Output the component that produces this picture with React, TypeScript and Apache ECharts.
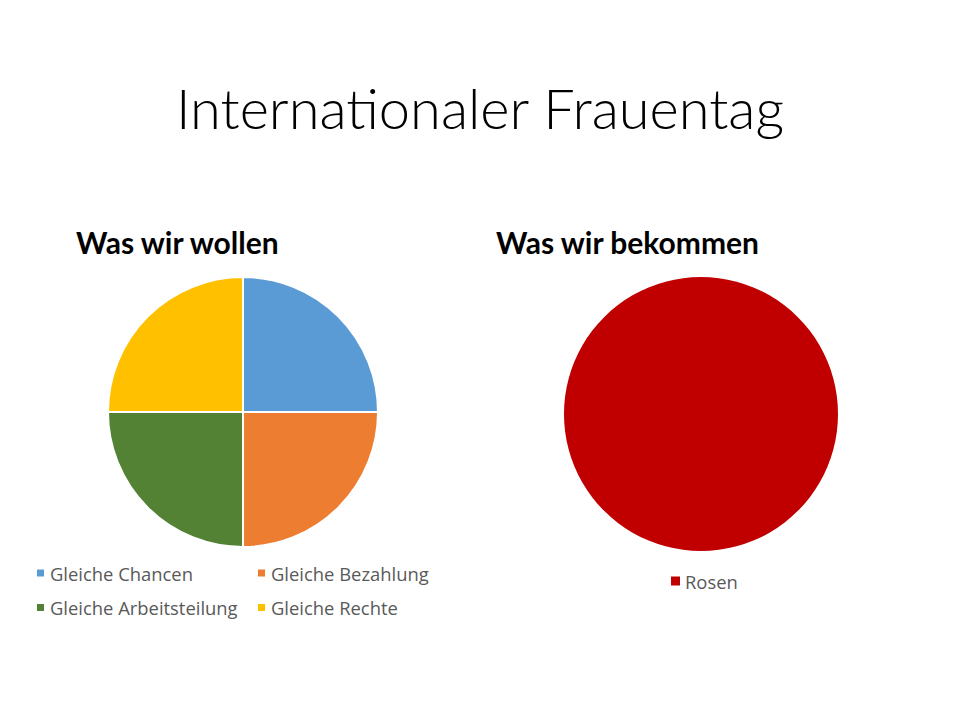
import React, { useEffect, useRef } from "react";
import * as echarts from "echarts";

const mainTitle = "Internationaler Frauentag";
const leftTitle = "Was wir wollen";
const rightTitle = "Was wir bekommen";
const wantCategories = ["Gleiche Chancen", "Gleiche Bezahlung", "Gleiche Arbeitsteilung", "Gleiche Rechte"];
const wantValues = [25, 25, 25, 25];
const wantColors = ["#5B9BD5", "#ED7D31", "#548235", "#FFC000"];
const getCategories = ["Rosen"];
const getValues = [100];
const getColors = ["#C00000"];

export default function App() {
  const ref = useRef<HTMLDivElement>(null);
  useEffect(() => {
    const chart = echarts.init(ref.current!, null, { renderer: "svg" });
    const font = "Lato, 'Open Sans', sans-serif";
    const legendText = { fontSize: 18.4, color: "#595959", fontFamily: "'Open Sans', sans-serif" };
    chart.setOption({
      animation: false,
      backgroundColor: "#ffffff",
      title: [
        {
          text: mainTitle,
          left: "center",
          top: 74,
          textStyle: { fontSize: 56, fontWeight: 300, color: "#000", fontFamily: font },
        },
        {
          text: leftTitle,
          left: 71,
          top: 222,
          textStyle: { fontSize: 30, fontWeight: "bold", color: "#000", fontFamily: font },
        },
        {
          text: rightTitle,
          left: 491,
          top: 222,
          textStyle: { fontSize: 30, fontWeight: "bold", color: "#000", fontFamily: font },
        },
      ],
      legend: [
        {
          orient: "vertical",
          left: 30,
          top: 559,
          icon: "rect",
          itemWidth: 9,
          itemHeight: 9,
          itemGap: 16.5,
          data: [wantCategories[0], wantCategories[2]],
          textStyle: legendText,
        },
        {
          orient: "vertical",
          left: 251,
          top: 559,
          icon: "rect",
          itemWidth: 9,
          itemHeight: 9,
          itemGap: 16.5,
          data: [wantCategories[1], wantCategories[3]],
          textStyle: legendText,
        },
        {
          orient: "horizontal",
          left: 666,
          top: 567,
          icon: "rect",
          itemWidth: 9,
          itemHeight: 9,
          data: getCategories,
          textStyle: legendText,
        },
      ],
      series: [
        {
          type: "pie",
          center: [243, 412],
          radius: [0, 135],
          startAngle: 90,
          clockwise: true,
          label: { show: false },
          labelLine: { show: false },
          emphasis: { disabled: true },
          itemStyle: { borderColor: "#ffffff", borderWidth: 2 },
          data: wantCategories.map((name, i) => ({
            name,
            value: wantValues[i],
            itemStyle: { color: wantColors[i] },
          })),
        },
        {
          type: "pie",
          center: [701, 414],
          radius: [0, 137],
          startAngle: 90,
          label: { show: false },
          labelLine: { show: false },
          emphasis: { disabled: true },
          itemStyle: { borderColor: "#ffffff", borderWidth: 0 },
          data: getCategories.map((name, i) => ({
            name,
            value: getValues[i],
            itemStyle: { color: getColors[i] },
          })),
        },
      ],
    });
    return () => chart.dispose();
  }, []);
  return (
    <div
      ref={ref}
      style={{ position: "fixed", left: 0, top: 0, width: 960, height: 720 }}
    />
  );
}
